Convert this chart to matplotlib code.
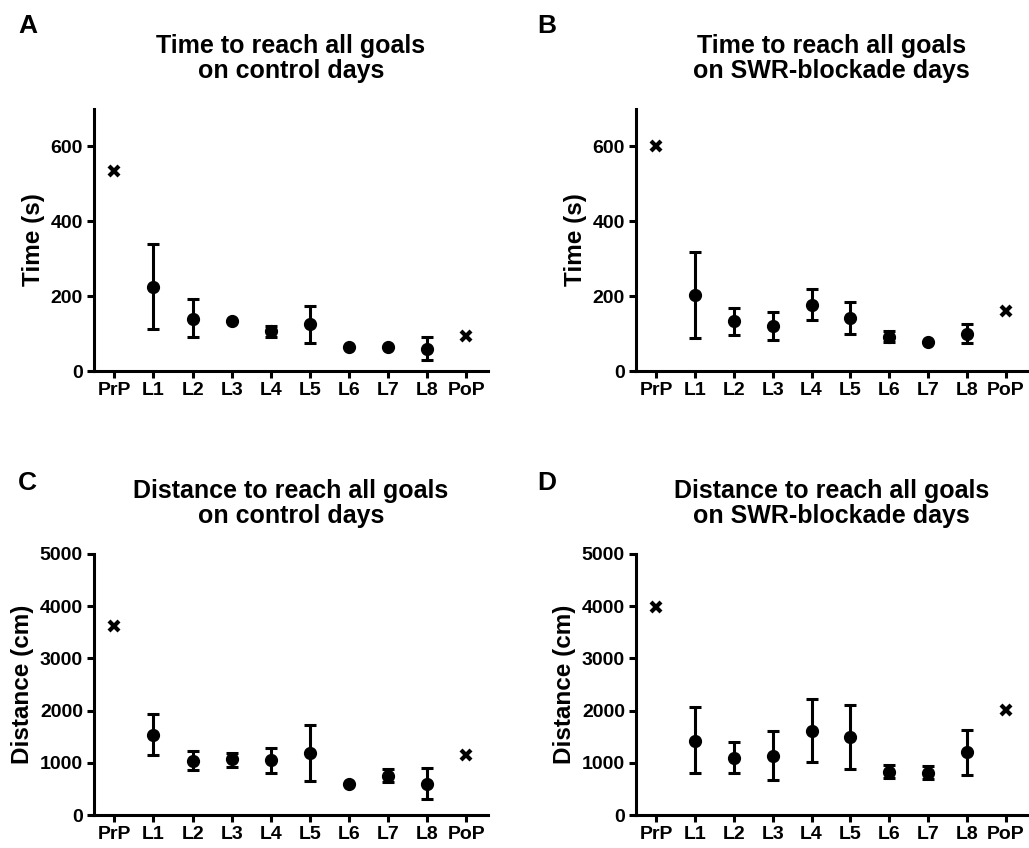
import matplotlib
matplotlib.use("Agg")
import matplotlib.pyplot as plt
import numpy as np

plt.rcParams['font.family'] = ['Liberation Sans', 'DejaVu Sans']
plt.rcParams['font.weight'] = 'bold'

categories = ["PrP", "L1", "L2", "L3", "L4", "L5", "L6", "L7", "L8", "PoP"]

# Panel A: time, control days (L1..L8 mean, lower bound, upper bound)
time_ctrl_mean = [225, 140, 134, 106, 125, 64, 63, 60]
time_ctrl_low = [111, 90, 134, 91, 76, 64, 63, 29]
time_ctrl_high = [339, 192, 134, 121, 175, 64, 63, 91]
time_ctrl_prp = 534
time_ctrl_pop = 93

# Panel B: time, SWR-blockade days
time_swr_mean = [203, 133, 119, 176, 141, 92, 78, 100]
time_swr_low = [87, 96, 83, 135, 100, 77, 78, 74]
time_swr_high = [318, 168, 157, 218, 184, 106, 78, 126]
time_swr_prp = 600
time_swr_pop = 161

# Panel C: distance, control days
dist_ctrl_mean = [1539, 1041, 1066, 1047, 1181, 600, 753, 594]
dist_ctrl_low = [1156, 856, 926, 811, 651, 600, 626, 300]
dist_ctrl_high = [1929, 1226, 1194, 1277, 1724, 600, 875, 907]
dist_ctrl_prp = 3614
dist_ctrl_pop = 1149

# Panel D: distance, SWR-blockade days
dist_swr_mean = [1424, 1092, 1130, 1616, 1488, 830, 805, 1201]
dist_swr_low = [805, 811, 670, 1015, 875, 715, 683, 766]
dist_swr_high = [2063, 1392, 1603, 2229, 2114, 951, 932, 1635]
dist_swr_prp = 3991
dist_swr_pop = 2011

time_ticks = [0, 200, 400, 600]
dist_ticks = [0, 1000, 2000, 3000, 4000, 5000]

fig = plt.figure(figsize=(10.29, 8.48), dpi=100)

W, H = 1029.0, 848.0
def axes_px(left, top, right, bottom):
    return fig.add_axes([left / W, 1 - bottom / H, (right - left) / W, (bottom - top) / H])

axA = axes_px(94, 109, 488, 371)
axB = axes_px(636, 109, 1027, 371)
axC = axes_px(94, 554, 488, 815)
axD = axes_px(636, 554, 1027, 815)

panels = [
    (axA, "A", "Time to reach all goals\non control days", "Time (s)",
     time_ctrl_mean, time_ctrl_low, time_ctrl_high, time_ctrl_prp, time_ctrl_pop, 700, time_ticks),
    (axB, "B", "Time to reach all goals\non SWR-blockade days", "Time (s)",
     time_swr_mean, time_swr_low, time_swr_high, time_swr_prp, time_swr_pop, 700, time_ticks),
    (axC, "C", "Distance to reach all goals\non control days", "Distance (cm)",
     dist_ctrl_mean, dist_ctrl_low, dist_ctrl_high, dist_ctrl_prp, dist_ctrl_pop, 5000, dist_ticks),
    (axD, "D", "Distance to reach all goals\non SWR-blockade days", "Distance (cm)",
     dist_swr_mean, dist_swr_low, dist_swr_high, dist_swr_prp, dist_swr_pop, 5000, dist_ticks),
]

letter_pos = {"A": (18, 33), "B": (537, 33), "C": (18, 490), "D": (537, 490)}

for ax, letter, title, ylabel, mean, low, high, prp, pop, ymax, yticks in panels:
    x = np.arange(1, 9)
    mean = np.array(mean)
    yerr = np.vstack([mean - np.array(low), np.array(high) - mean])
    ax.errorbar(x, mean, yerr=yerr, fmt='o', color='black', markersize=8.5,
                ecolor='black', elinewidth=2.2, capsize=4, capthick=2.2, zorder=3)
    ax.plot([0, 9], [prp, pop], linestyle='none', marker='x', color='black',
            markersize=7.5, markeredgewidth=3, zorder=3)
    ax.set_xlim(-0.52, 9.55)
    ax.set_ylim(0, ymax)
    ax.set_yticks(yticks)
    ax.set_xticks(np.arange(len(categories)))
    ax.set_xticklabels(categories)
    for s in ['top', 'right']:
        ax.spines[s].set_visible(False)
    for s in ['left', 'bottom']:
        ax.spines[s].set_linewidth(2.2)
    ax.tick_params(axis='both', direction='out', length=5, width=2.2,
                   labelsize=14, pad=3)
    for lab in ax.get_xticklabels() + ax.get_yticklabels():
        lab.set_fontweight('bold')
    ax.set_ylabel(ylabel, fontsize=17.5, fontweight='bold', labelpad=4)
    ax.set_title(title, fontsize=18, fontweight='bold', pad=22, linespacing=1.1)
    lx, ly = letter_pos[letter]
    fig.text(lx / W, 1 - ly / H, letter, fontsize=19, fontweight='bold',
             ha='left', va='baseline')

fig.savefig("out.png", dpi=100, facecolor='white')
